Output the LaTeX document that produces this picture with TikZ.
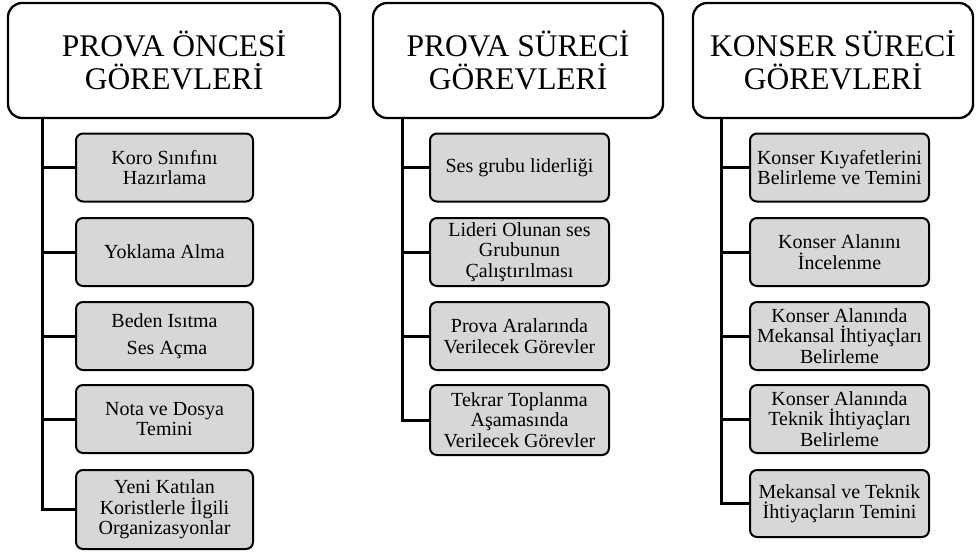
\documentclass[tikz,border=0pt]{standalone}
\usepackage{fontspec}
\setmainfont{Liberation Serif}
\definecolor{boxgray}{RGB}{215,215,215}
\begin{document}
\begin{tikzpicture}[x=1pt,y=-1pt,
  head/.style={draw=black, line width=2.3pt, fill=white, rounded corners=14pt,
    align=center, inner sep=0pt, minimum height=115pt,
    font=\fontsize{31.5}{33}\selectfont},
  task/.style={draw=black, line width=2pt, fill=boxgray, rounded corners=7pt,
    align=center, inner sep=0pt, minimum height=68pt,
    font=\fontsize{20}{20.5}\selectfont},
  link/.style={draw=black, line width=3pt}]
\useasboundingbox (0,0) rectangle (976,554);

% headers
\node[head, minimum width=332pt] (h1) at (174,60.5) {PROVA ÖNCESİ\\GÖREVLERİ};
\node[head, minimum width=290pt] (h2) at (518,60.5) {PROVA SÜRECİ\\GÖREVLERİ};
\node[head, minimum width=280pt] (h3) at (833,60.5) {KONSER SÜRECİ\\GÖREVLERİ};

% column 1
\node[task, minimum width=177pt] (a1) at (164.5,167.5) {Koro Sınıfını\\Hazırlama};
\node[task, minimum width=177pt] (a2) at (164.5,252) {Yoklama Alma};
\node[task, minimum width=177pt] (a3) at (164.5,336) {Beden Isıtma\\[6pt]\hspace*{5pt}Ses Açma};
\node[task, minimum width=177pt] (a4) at (164.5,419) {Nota ve Dosya\\Temini};
\node[task, minimum width=177pt, minimum height=79pt] (a5) at (164.5,509.5) {Yeni Katılan\\Koristlerle İlgili\\Organizasyonlar};

% column 2
\node[task, minimum width=179pt] (b1) at (519.5,167.5) {Ses grubu liderliği};
\node[task, minimum width=179pt] (b2) at (519.5,252) {Lideri Olunan ses\\Grubunun\\Çalıştırılması};
\node[task, minimum width=179pt] (b3) at (519.5,336) {Prova Aralarında\\Verilecek Görevler};
\node[task, minimum width=179pt, minimum height=70pt] (b4) at (519.5,420) {Tekrar Toplanma\\Aşamasında\\Verilecek Görevler};

% column 3
\node[task, minimum width=179pt] (c1) at (839.5,167.5) {Konser Kıyafetlerini\\Belirleme ve Temini};
\node[task, minimum width=179pt] (c2) at (839.5,252) {Konser Alanını\\İncelenme};
\node[task, minimum width=179pt] (c3) at (839.5,336) {Konser Alanında\\Mekansal İhtiyaçları\\Belirleme};
\node[task, minimum width=179pt] (c4) at (839.5,419) {Konser Alanında\\Teknik İhtiyaçları\\Belirleme};
\node[task, minimum width=179pt, minimum height=67pt] (c5) at (839.5,503.5) {Mekansal ve Teknik\\İhtiyaçların Temini};

% trunk start points on header borders
\coordinate (s1) at (h1.south -| 42,0);
\coordinate (s2) at (h2.south -| 402,0);
\coordinate (s3) at (h3.south -| 721.5,0);

% connectors column 1
\draw[link] (s1) |- (a5.west);
\foreach \n in {a1,a2,a3,a4} \draw[link] (s1 |- \n.west) -- (\n.west);
% column 2
\draw[link] (s2) |- (b4.west);
\foreach \n in {b1,b2,b3} \draw[link] (s2 |- \n.west) -- (\n.west);
% column 3
\draw[link] (s3) |- (c5.west);
\foreach \n in {c1,c2,c3,c4} \draw[link] (s3 |- \n.west) -- (\n.west);
\end{tikzpicture}
\end{document}
